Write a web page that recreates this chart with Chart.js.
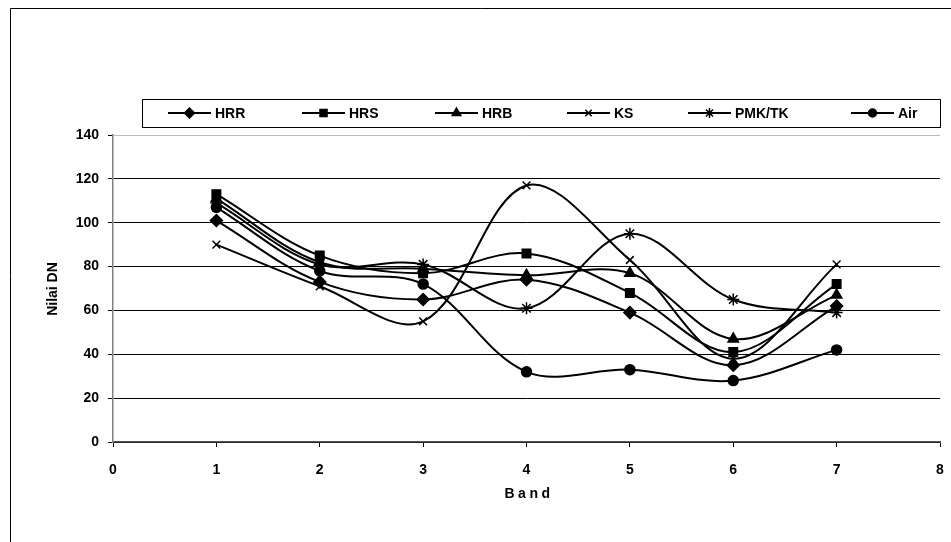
<!DOCTYPE html>
<html>
<head>
<meta charset="utf-8">
<script src="https://cdn.jsdelivr.net/npm/chart.js@4/dist/chart.umd.min.js"></script>
<style>
  html, body { margin: 0; padding: 0; background: #fff; }
  #wrap { width: 951px; height: 542px; }
</style>
</head>
<body>
<div id="wrap"><canvas id="chart" width="951" height="542"></canvas></div>
<script>
// Nilai DN per band for each land cover class
const bands = [1, 2, 3, 4, 5, 6, 7];
const seriesNames = ["HRR", "HRS", "HRB", "KS", "PMK/TK", "Air"];
const hrr = [101, 73, 65, 74, 59, 35, 62];
const hrs = [113, 85, 77, 86, 68, 41, 72];
const hrb = [111, 82, 79, 76, 77, 47, 67];
const ks = [90, 71, 55, 117, 83, 38, 81];
const pmk = [109, 81, 81, 61, 95, 65, 59];
const air = [107, 78, 72, 32, 33, 28, 42];
const xTicks = [0, 1, 2, 3, 4, 5, 6, 7, 8];
const yTicks = [0, 20, 40, 60, 80, 100, 120, 140];

const FONT = "'Liberation Sans', Arial, sans-serif";
const pointStyles = ["rectRot", "rect", "triangle", "crossRot", "star", "circle"];
const pointSizes = [6, 6, 6, 5.5, 6, 5];
const allValues = [hrr, hrs, hrb, ks, pmk, air];

function toPoints(values) {
  return values.map((v, i) => ({ x: bands[i], y: v }));
}

const datasets = seriesNames.map((name, i) => ({
  label: name,
  data: toPoints(allValues[i]),
  borderColor: "#000",
  backgroundColor: "#000",
  borderWidth: 2,
  tension: 0.35,
  pointStyle: pointStyles[i],
  pointRadius: pointSizes[i],
  pointBorderWidth: 1.5,
  pointBorderColor: "#000",
  pointBackgroundColor: "#000",
}));

// legend slots: line start x of each entry
const legendSlots = [168, 302, 435, 567, 688, 851];

const framePlugin = {
  id: "frame",
  beforeDraw(chart) {
    const ctx = chart.ctx;
    ctx.save();
    ctx.fillStyle = "#fff";
    ctx.fillRect(0, 0, chart.width, chart.height);
    ctx.strokeStyle = "#000";
    ctx.lineWidth = 1;
    ctx.beginPath();
    ctx.moveTo(10.5, chart.height + 2);
    ctx.lineTo(10.5, 8.5);
    ctx.lineTo(chart.width + 2, 8.5);
    ctx.stroke();
    ctx.restore();
  },
  afterDraw(chart) {
    const ctx = chart.ctx;
    ctx.save();
    // legend box
    ctx.strokeStyle = "#000";
    ctx.lineWidth = 1;
    ctx.strokeRect(142.5, 99.5, 798, 28);
    ctx.font = "bold 14px " + FONT;
    ctx.textBaseline = "middle";
    ctx.fillStyle = "#000";
    seriesNames.forEach((name, i) => {
      const x0 = legendSlots[i];
      const y = 113;
      ctx.strokeStyle = "#000";
      ctx.lineWidth = 2;
      ctx.beginPath();
      ctx.moveTo(x0, y);
      ctx.lineTo(x0 + 43, y);
      ctx.stroke();
      ctx.lineWidth = 1.5;
      Chart.helpers.drawPoint(ctx, {
        pointStyle: pointStyles[i],
        radius: pointSizes[i] - 1,
        rotation: 0,
        borderWidth: 1.5,
      }, x0 + 21.5, y);
      ctx.fillText(name, x0 + 47, y + 1);
    });

    // axis titles
    ctx.font = "bold 14px " + FONT;
    ctx.textAlign = "center";
    ctx.textBaseline = "middle";
    if ("letterSpacing" in ctx) ctx.letterSpacing = "3.5px";
    ctx.fillText("Band", 529, 494);
    if ("letterSpacing" in ctx) ctx.letterSpacing = "0px";
    ctx.translate(53, 289);
    ctx.rotate(-Math.PI / 2);
    ctx.fillText("Nilai DN", 0, 0);
    ctx.restore();
  },
};

new Chart(document.getElementById("chart"), {
  type: "line",
  data: { datasets },
  options: {
    responsive: false,
    animation: false,
    layout: { padding: { left: 0, top: 135, right: 11, bottom: 0 } },
    plugins: {
      legend: { display: false },
      tooltip: { enabled: false },
    },
    scales: {
      x: {
        type: "linear",
        min: xTicks[0],
        max: xTicks[xTicks.length - 1],
        afterBuildTicks: (scale) => { scale.ticks = xTicks.map((v) => ({ value: v })); },
        afterFit: (scale) => {
          scale.height = 100;
          scale.paddingLeft = 0;
          scale.paddingRight = 0;
        },
        grid: { drawOnChartArea: false, drawTicks: true, tickLength: 5, color: "#000" },
        border: { color: "#555", width: 1.5 },
        ticks: { color: "#000", padding: 15, font: { family: FONT, size: 14, weight: "bold" } },
      },
      y: {
        min: yTicks[0],
        max: yTicks[yTicks.length - 1],
        afterBuildTicks: (scale) => { scale.ticks = yTicks.map((v) => ({ value: v })); },
        afterFit: (scale) => {
          scale.width = 113;
          scale.paddingTop = 0;
          scale.paddingBottom = 0;
        },
        grid: {
          tickLength: 5,
          color: (c) => (c.tick && c.tick.value === 140 ? "#bbb" : "#000"),
          tickColor: "#000",
        },
        border: { color: "#808080", width: 1.5 },
        ticks: { color: "#000", padding: 9, font: { family: FONT, size: 14, weight: "bold" } },
      },
    },
  },
  plugins: [framePlugin],
});
</script>
</body>
</html>
